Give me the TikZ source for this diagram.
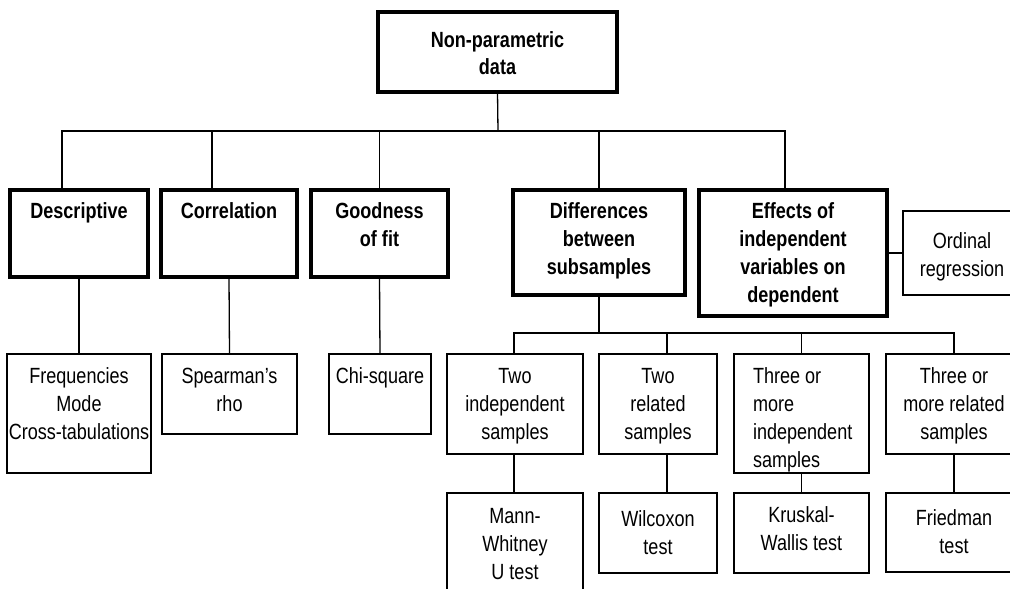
\documentclass[tikz,border=0pt]{standalone}
\usepackage{fontspec}
\setmainfont[FakeStretch=0.82]{Liberation Sans}
% box text: [alignment]{width}{height}{first baseline}{text}
\newcommand{\boxtxt}[5][\centering]{\parbox[c][#3][t]{#2}{#1\rule{0pt}{#4}#5}}
\begin{document}
\begin{tikzpicture}[x=1pt,y=-1pt,
    every node/.style={inner sep=0pt,outer sep=0pt,font=\fontsize{22}{28}\selectfont},
    headbox/.style={draw,line width=4pt,font=\fontsize{22}{28}\selectfont\bfseries},
    leafbox/.style={draw,line width=1.5pt},
    link/.style={line width=1.3pt}]
    \useasboundingbox (0,0) rectangle (1010,589);
    \clip (0,0) rectangle (1010,589);

    % root
    \node[headbox,anchor=north west] (root) at (378,12) {\boxtxt{239pt}{80pt}{35pt}{Non-parametric\\data}};

    % second level
    \node[headbox,anchor=north west] (desc) at (10,190) {\boxtxt{138pt}{87pt}{28pt}{Descriptive}};
    \node[headbox,anchor=north west] (corr) at (161,190) {\boxtxt{136pt}{87pt}{28pt}{Correlation}};
    \node[headbox,anchor=north west] (good) at (311,190) {\boxtxt{137pt}{87pt}{28pt}{Goodness\\of fit}};
    \node[headbox,anchor=north west] (diff) at (513,190) {\boxtxt{172pt}{105pt}{28pt}{Differences\\between\\subsamples}};
    \node[headbox,anchor=north west] (eff) at (699,190) {\boxtxt{188pt}{126pt}{28pt}{Effects of\\independent\\variables on\\dependent}};
    \node[leafbox,anchor=north west] (ord) at (903,211) {\boxtxt{118pt}{84pt}{37pt}{Ordinal\\regression}};

    % third level
    \node[leafbox,anchor=north west] (freq) at (7,354) {\boxtxt{144pt}{119pt}{29pt}{Frequencies\\Mode\\Cross-tabulations}};
    \node[leafbox,anchor=north west] (spear) at (162,354) {\boxtxt{135pt}{80pt}{29pt}{Spearman's\\rho}};
    \node[leafbox,anchor=north west] (chi) at (329,354) {\boxtxt{102pt}{80pt}{29pt}{Chi-square}};
    \node[leafbox,anchor=north west] (twoind) at (447,354) {\boxtxt{136pt}{100pt}{29pt}{Two\\independent\\samples}};
    \node[leafbox,anchor=north west] (tworel) at (599,354) {\boxtxt{118pt}{100pt}{29pt}{Two\\related\\samples}};
    \node[leafbox,anchor=north west] (threeind) at (734,354) {\boxtxt[\raggedright\leftskip=19pt\relax]{135pt}{119pt}{29pt}{Three or\\more\\independent\\samples}};
    \node[leafbox,anchor=north west] (threerel) at (886,354) {\boxtxt{136pt}{100pt}{29pt}{Three or\\more related\\samples}};

    % tests
    \node[leafbox,anchor=north west] (mann) at (447,493) {\boxtxt{136pt}{110pt}{30pt}{Mann-\\Whitney\\U test}};
    \node[leafbox,anchor=north west] (wilc) at (599,493) {\boxtxt{118pt}{80pt}{33pt}{Wilcoxon\\test}};
    \node[leafbox,anchor=north west] (krus) at (734,493) {\boxtxt{135pt}{80pt}{29pt}{Kruskal-\\Wallis test}};
    \node[leafbox,anchor=north west] (fried) at (886,493) {\boxtxt{136pt}{79pt}{32pt}{Friedman\\test}};

    % connectors
    \coordinate (bar) at (498,131);
    \draw[link] (root.south) -- (bar);
    \foreach \n/\dx in {desc/-17,corr/-17,good/0,diff/0,eff/-8}
        \draw[link] (bar) -| ([xshift=\dx pt]\n.north);
    \draw[link] (eff) -- (ord);
    \draw[link] (desc.south) -- (freq.north);
    \draw[link] (corr.south) -- (spear.north);
    \draw[link] (good.south) -- (chi.north);

    \coordinate (bar2) at (599,333);
    \draw[link] (diff.south) -- (bar2);
    \foreach \n/\dx in {twoind/-1,tworel/9,threeind/0,threerel/0}
        \draw[link] (bar2) -| ([xshift=\dx pt]\n.north);
    \draw[link] ([xshift=-1pt]twoind.south) -- ([xshift=-1pt]mann.north);
    \draw[link] ([xshift=9pt]tworel.south) -- ([xshift=9pt]wilc.north);
    \draw[link] (threeind.south) -- (krus.north);
    \draw[link] (threerel.south) -- (fried.north);
\end{tikzpicture}
\end{document}
